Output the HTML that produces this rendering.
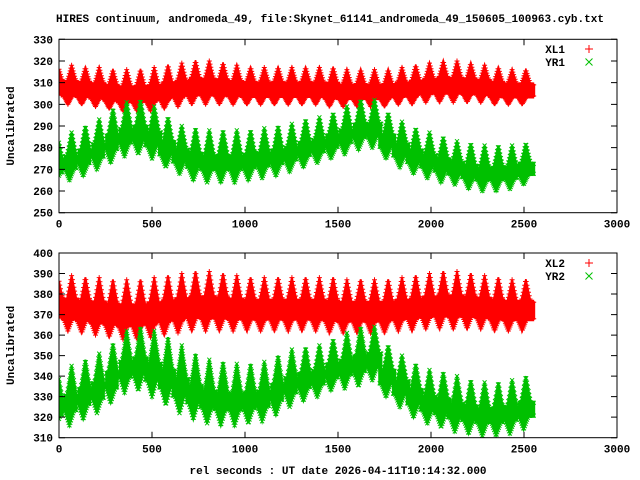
<!DOCTYPE html>
<html><head><meta charset="utf-8"><style>
body{margin:0;background:#fff}
svg{display:block;font-family:"Liberation Mono",monospace;font-size:11px;font-weight:bold}
</style></head><body>
<svg id="c" width="640" height="480" viewBox="0 0 640 480">
<rect width="640" height="480" fill="#fff"/>
<text x="330" y="22" text-anchor="middle">HIRES continuum, andromeda_49, file:Skynet_61141_andromeda_49_150605_100963.cyb.txt</text>
<text x="338" y="474" text-anchor="middle">rel seconds : UT date 2026-04-11T10:14:32.000</text>
</svg>
<script>
const xTicks=[0,500,1000,1500,2000,2500,3000];
const yTicksTop=[250,260,270,280,290,300,310,320,330];
const yTicksBot=[310,320,330,340,350,360,370,380,390,400];
const peakTimes=[-6,68,142,216,290,364,438,512,586,660,734,808,882,956,1030,1104,1178,1252,1326,1400,1474,1548,1622,1696,1770,1844,1918,1992,2066,2140,2214,2288,2362,2436,2510];
const xl1Hi=[318,318,317,317,316,316,316,317,318,319,320,320,319,318,317,317,317,317,317,317,317,316,316,316,316,317,318,319,320,320,319,318,317,316,316];
const xl1Lo=[301,300,300,299,298,297,297,297,298,299,300,300,300,300,300,300,300,300,300,300,299,299,299,299,299,300,300,301,301,301,301,301,300,300,300];
const yr1Hi=[285,287,290,293,298,301,302,299,294,290,289,288,288,288,288,289,290,291,293,294,296,299,302,302,296,292,289,287,285,283,282,281,281,281,282];
const yr1Lo=[263,265,267,270,273,276,277,275,271,268,265,264,264,264,265,266,267,269,271,273,275,277,279,280,275,271,268,266,264,263,261,260,260,261,263];
const xl2Hi=[389,389,388,388,387,387,387,388,389,390,391,391,390,389,388,388,388,388,388,388,388,387,387,387,387,388,389,390,391,391,390,389,388,387,387];
const xl2Lo=[363,362,361,360,359,358,358,359,360,361,362,362,362,362,362,362,362,362,362,362,361,361,361,361,361,362,362,363,363,363,363,363,362,362,362];
const yr2Hi=[342,345,348,351,356,362,364,362,359,355,351,348,347,346,346,347,350,353,354,355,358,361,364,364,355,350,346,343,342,340,338,337,337,338,340];
const yr2Lo=[314,316,319,322,327,332,333,330,326,322,319,317,316,316,317,318,321,325,328,330,333,334,335,338,330,325,320,317,315,313,312,311,311,312,314];
const T_END=2555;
const NS="http://www.w3.org/2000/svg";
const svg=document.getElementById('c');
function mk(tag,attrs,parent){const e=document.createElementNS(NS,tag);for(const k in attrs)e.setAttribute(k,attrs[k]);(parent||svg).appendChild(e);return e;}
const X0=59,X1=617;
const xs=t=>X0+(t-0)/3000*(X1-X0);

function nearest(t,off){
  let k=0,best=1e9;
  for(let i=0;i<peakTimes.length;i++){const d=Math.abs(t-peakTimes[i]-off);if(d<best){best=d;k=i;}}
  return [k,best/37];
}
function envelope(t,hi,lo,shape){
  const [k,p]=nearest(t,0);
  const [k2,q]=nearest(t,-shape.lag);
  const h=hi[k],l=lo[k],m=l+(h-l)*shape.mid,w=(h-l)*shape.w;
  const m2=lo[k2]+(hi[k2]-lo[k2])*shape.mid,w2=(hi[k2]-lo[k2])*shape.w;
  const u=m+w+(h-m-w)*Math.pow(Math.max(0,1-p/shape.sw),1.1);
  const d=m2-w2-(m2-w2-lo[k2])*Math.pow(Math.max(0,1-q/shape.sw),1.1);
  return [u,d];
}

function panel(top,bottom,ymin,ymax,yTicks,series,legendY,idx){
  const ys=v=>bottom-(v-ymin)/(ymax-ymin)*(bottom-top);
  const g=mk('g',{});
  
  
  const cid='clip'+idx;
  const cp=mk('clipPath',{id:cid},g);mk('rect',{x:X0,y:top,width:X1-X0,height:bottom-top},cp);
  series.forEach(s=>{
    const sg=mk('g',{'clip-path':'url(#'+cid+')'},g);
    
    
    let up=[],dn=[];
    for(let t=0;t<=T_END;t+=1){const [u,l]=envelope(t,s.hi,s.lo,s.shape);up.push(xs(t).toFixed(1)+','+ys(u).toFixed(1));dn.push(xs(t).toFixed(1)+','+ys(l).toFixed(1));}
    const band=mk('polygon',{points:up.concat(dn.reverse()).join(' '),fill:s.color,stroke:s.color,'stroke-width':2},sg);
    
    
    let d='';
    for(let t=0;t<=T_END;t+=4){
      const [u,l]=envelope(t,s.hi,s.lo,s.shape);
      [u,l].forEach(v=>{const x=xs(t),y=ys(v);
        if(s.mark==='+')d+=`M${(x-2.5).toFixed(1)} ${y.toFixed(1)}h5M${x.toFixed(1)} ${(y-2.5).toFixed(1)}v5`;
        else d+=`M${(x-2).toFixed(1)} ${(y-2).toFixed(1)}l4 4M${(x-2).toFixed(1)} ${(y+2).toFixed(1)}l4 -4`;});
    }
    const pts=mk('path',{d:d,stroke:s.color,'stroke-width':1,fill:'none'},sg);
    
    
  });
  const fr=mk('rect',{x:X0,y:top,width:X1-X0,height:bottom-top,fill:'none',stroke:'#000','stroke-width':1},g);
  
  
  yTicks.forEach(v=>{const y=ys(v);
    mk('path',{d:`M${X0} ${y}h6M${X1} ${y}h-6`,stroke:'#000'},g);
    const tx=mk('text',{x:X0-6,y:y+4,'text-anchor':'end'},g);tx.textContent=v;
    
    
  });
  xTicks.forEach(v=>{const x=xs(v);
    mk('path',{d:`M${x} ${bottom}v-6M${x} ${top}v6`,stroke:'#000'},g);
    const tx=mk('text',{x:x,y:bottom+15,'text-anchor':'middle'},g);tx.textContent=v;
    
    
  });
  const yt=mk('text',{x:0,y:0,'text-anchor':'middle',transform:`translate(14,${(top+bottom)/2}) rotate(-90)`},g);
  yt.textContent='Uncalibrated';
  
  
  series.forEach((s,i)=>{const y=legendY+i*13;
    const lt=mk('text',{x:565,y:y+4,'text-anchor':'end'},g);lt.textContent=s.name;
    
    
    const x=589;
    const d=s.mark==='+'?`M${x-4} ${y}h8M${x} ${y-4}v8`:`M${x-3.5} ${y-3.5}l7 7M${x-3.5} ${y+3.5}l7 -7`;
    const lm=mk('path',{d:d,stroke:s.color,'stroke-width':1},g);
    
    
  });
}
const redShape={mid:0.4,w:0.16,sw:0.72,lag:20};
const greenShape={mid:0.38,w:0.12,sw:0.72,lag:12};
panel(39.3,212.7,250,330,yTicksTop,[
  {name:'XL1',hi:xl1Hi,lo:xl1Lo,color:'#ff0000',mark:'+',shape:redShape},
  {name:'YR1',hi:yr1Hi,lo:yr1Lo,color:'#00c000',mark:'x',shape:greenShape}],49,1);
panel(253,437.7,310,400,yTicksBot,[
  {name:'XL2',hi:xl2Hi,lo:xl2Lo,color:'#ff0000',mark:'+',shape:redShape},
  {name:'YR2',hi:yr2Hi,lo:yr2Lo,color:'#00c000',mark:'x',shape:greenShape}],263,2);
</script>
</body></html>
